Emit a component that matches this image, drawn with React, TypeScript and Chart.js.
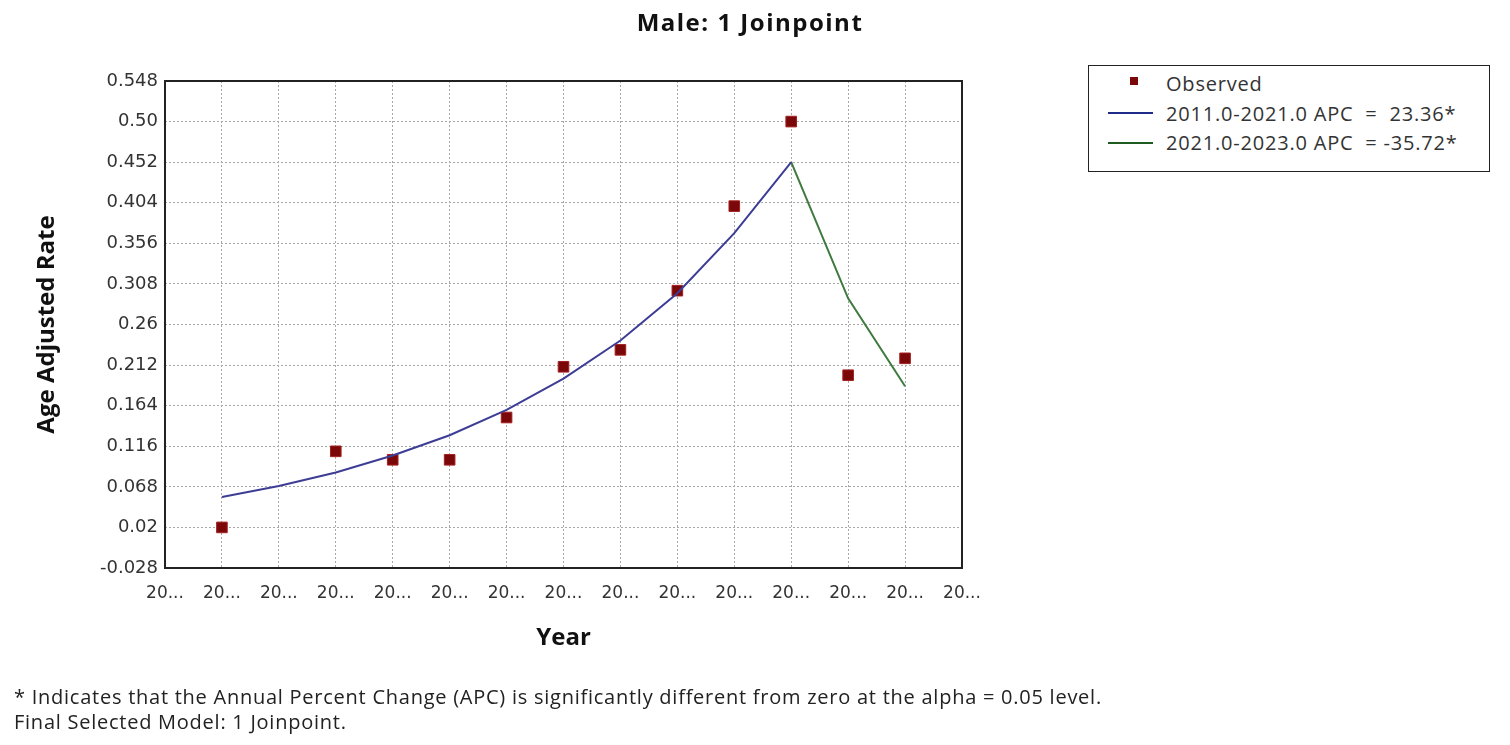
import React, { useEffect, useRef } from "react";
import { Chart, registerables } from "chart.js";

Chart.register(...registerables);

// axis ticks
const xTickYears = [2010, 2011, 2012, 2013, 2014, 2015, 2016, 2017, 2018, 2019, 2020, 2021, 2022, 2023, 2024];
const xTickLabel = "20...";
const yTickValues = [-0.028, 0.02, 0.068, 0.116, 0.164, 0.212, 0.26, 0.308, 0.356, 0.404, 0.452, 0.5, 0.548];
const yTickLabels = ["-0.028", "0.02", "0.068", "0.116", "0.164", "0.212", "0.26", "0.308", "0.356", "0.404", "0.452", "0.50", "0.548"];

// observed rates
const observedYears = [2011, 2013, 2014, 2015, 2016, 2017, 2018, 2019, 2020, 2021, 2022, 2023];
const observedRates = [0.02, 0.11, 0.1, 0.1, 0.15, 0.21, 0.23, 0.3, 0.4, 0.5, 0.2, 0.22];

// fitted segments
const seg1Years = [2011, 2012, 2013, 2014, 2015, 2016, 2017, 2018, 2019, 2020, 2021];
const seg1Rates = [0.056, 0.069, 0.085, 0.105, 0.129, 0.159, 0.196, 0.241, 0.297, 0.368, 0.452];
const seg2Years = [2021, 2022, 2023];
const seg2Rates = [0.452, 0.291, 0.187];

const seg1Label = "2011.0-2021.0 APC  =  23.36*";
const seg2Label = "2021.0-2023.0 APC  = -35.72*";

const FONT = "'Open Sans', 'DejaVu Sans', sans-serif";
const TICK_FONT = "'DejaVu Sans', sans-serif";

const pts = (xs: number[], ys: number[]) => xs.map((x, i) => ({ x, y: ys[i] }));

const framePlugin = {
  id: "frame",
  afterDraw(chart: any) {
    const { ctx, chartArea } = chart;
    ctx.save();
    ctx.strokeStyle = "#222";
    ctx.lineWidth = 2;
    ctx.strokeRect(chartArea.left, chartArea.top, chartArea.right - chartArea.left, chartArea.bottom - chartArea.top);
    ctx.restore();
  },
};

const JoinpointChart: React.FC = () => {
  const canvasRef = useRef<HTMLCanvasElement | null>(null);

  useEffect(() => {
    if (!canvasRef.current) return;
    const ctx = canvasRef.current.getContext("2d");
    if (!ctx) return;
    const chart = new Chart(ctx, {
      type: "line",
      data: {
        datasets: [
          {
            label: seg1Label,
            data: pts(seg1Years, seg1Rates),
            borderColor: "#3d3d96",
            borderWidth: 2,
            pointRadius: 0,
            tension: 0,
          },
          {
            label: seg2Label,
            data: pts(seg2Years, seg2Rates),
            borderColor: "#3f7a3f",
            borderWidth: 2,
            pointRadius: 0,
            tension: 0,
          },
          {
            label: "Observed",
            data: pts(observedYears, observedRates),
            showLine: false,
            pointStyle: "rect",
            pointRadius: 7.5,
            pointBackgroundColor: "#7a0808",
            pointBorderColor: "#a52020",
            pointBorderWidth: 1,
          },
        ],
      },
      options: {
        responsive: false,
        animation: false,
        layout: { padding: { left: 0, top: 81, right: 548, bottom: 0 } },
        plugins: {
          legend: { display: false },
          tooltip: { enabled: false },
        },
        scales: {
          x: {
            type: "linear",
            min: 2010,
            max: 2024,
            afterBuildTicks: (scale: any) => {
              scale.ticks = xTickYears.map((v) => ({ value: v }));
            },
            afterFit: (scale: any) => {
              scale.height = 177;
            },
            ticks: {
              callback: () => xTickLabel,
              color: "#333",
              padding: 15,
              maxRotation: 0,
              autoSkip: false,
              font: { family: TICK_FONT, size: 17 },
            },
            grid: { color: "#a8a8a8", lineWidth: 1, drawTicks: false },
            border: { display: false, dash: [2, 2] },
            title: {
              display: true,
              text: "Year",
              color: "#111",
              font: { family: FONT, size: 24, weight: "bold" },
              padding: { top: 0, bottom: 92 },
            },
          },
          y: {
            type: "linear",
            min: -0.028,
            max: 0.548,
            afterBuildTicks: (scale: any) => {
              scale.ticks = yTickValues.map((v) => ({ value: v }));
            },
            afterFit: (scale: any) => {
              scale.width = 165;
            },
            ticks: {
              callback: (_v: any, i: number) => yTickLabels[i],
              color: "#333",
              padding: 7,
              autoSkip: false,
              font: { family: TICK_FONT, size: 18 },
            },
            grid: { color: "#a8a8a8", lineWidth: 1, drawTicks: false },
            border: { display: false, dash: [2, 2] },
            title: {
              display: true,
              text: "Age Adjusted Rate",
              color: "#111",
              font: { family: FONT, size: 24, weight: "bold" },
              padding: { top: 33, bottom: 0 },
            },
          },
        },
      },
      plugins: [framePlugin],
    });
    return () => {
      chart.destroy();
    };
  }, []);

  return <canvas ref={canvasRef} width={1510} height={745} style={{ position: "absolute", left: 0, top: 0 }} />;
};

const legendRow: React.CSSProperties = {
  position: "absolute",
  left: 77,
  whiteSpace: "pre",
  fontSize: 20,
  letterSpacing: 0.8,
  color: "#333",
  lineHeight: "20px",
};

const App: React.FC = () => {
  return (
    <div style={{ position: "fixed", left: 0, top: 0, width: 1510, height: 745, background: "#fff", fontFamily: FONT, overflow: "hidden" }}>
      <JoinpointChart />
      <div style={{ position: "absolute", left: 0, width: 1500, top: 5, textAlign: "center", fontSize: 24, letterSpacing: 1.5, fontWeight: "bold", color: "#111" }}>
        Male: 1 Joinpoint
      </div>
      <div style={{ position: "absolute", left: 1088, top: 65, width: 400, height: 105, border: "1.5px solid #222", background: "#fff" }}>
        <div style={{ position: "absolute", left: 41, top: 11, width: 8, height: 8, background: "#7a0808" }} />
        <div style={{ ...legendRow, top: 8 }}>Observed</div>
        <div style={{ position: "absolute", left: 19, top: 46, width: 45, height: 2, background: "#1f2a8a" }} />
        <div style={{ ...legendRow, top: 38 }}>{seg1Label}</div>
        <div style={{ position: "absolute", left: 19, top: 76, width: 45, height: 2, background: "#1f5a1f" }} />
        <div style={{ ...legendRow, top: 67 }}>{seg2Label}</div>
      </div>
      <div style={{ position: "absolute", left: 14, top: 684, fontSize: 20, letterSpacing: 0.75, color: "#222", lineHeight: "25px" }}>
        <div>* Indicates that the Annual Percent Change (APC) is significantly different from zero at the alpha = 0.05 level.</div>
        <div>Final Selected Model: 1 Joinpoint.</div>
      </div>
    </div>
  );
};

export default App;
